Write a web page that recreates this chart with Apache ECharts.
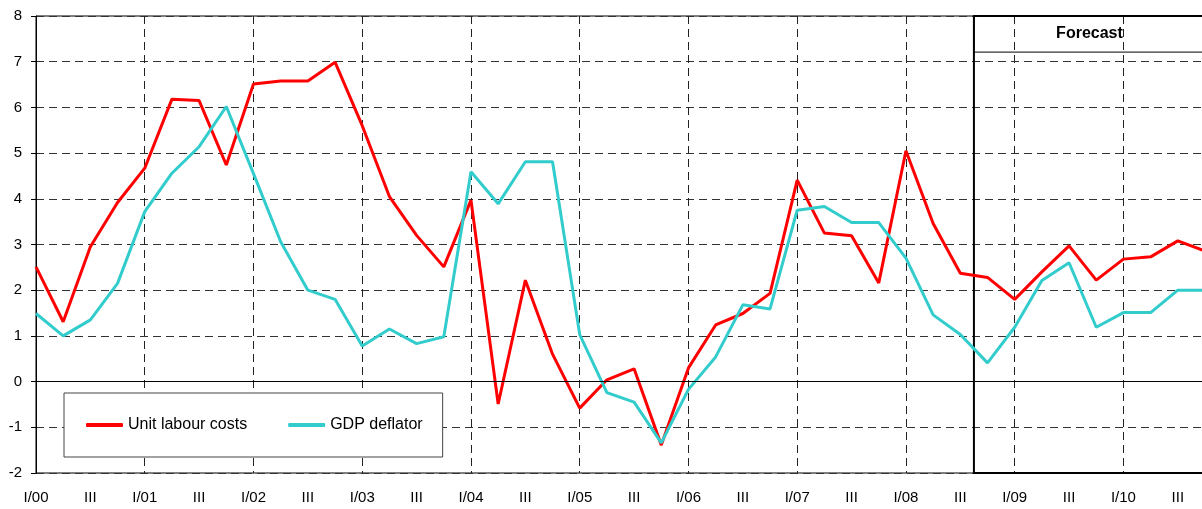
<!DOCTYPE html>
<html>
<head>
<meta charset="utf-8">
<script src="https://cdn.jsdelivr.net/npm/echarts@6/dist/echarts.min.js"></script>
<style>
  html, body { margin: 0; padding: 0; background: #fff; }
  #chart { width: 1202px; height: 509px; }
</style>
</head>
<body>
<div id="chart"></div>
<script>
// quarters I/00 .. IV/10
const quarters = [
  'I/00', 'II', 'III', 'IV', 'I/01', 'II', 'III', 'IV', 'I/02', 'II', 'III', 'IV',
  'I/03', 'II', 'III', 'IV', 'I/04', 'II', 'III', 'IV', 'I/05', 'II', 'III', 'IV',
  'I/06', 'II', 'III', 'IV', 'I/07', 'II', 'III', 'IV', 'I/08', 'II', 'III', 'IV',
  'I/09', 'II', 'III', 'IV', 'I/10', 'II', 'III', 'IV'
]
const unitLabourCosts = [
  2.51, 1.31, 2.95, 3.92, 4.67, 6.18, 6.15, 4.74, 6.51, 6.58, 6.58, 6.99,
  5.6, 4.05, 3.2, 2.51, 3.97, -0.49, 2.22, 0.6, -0.58, 0.04, 0.28, -1.39,
  0.3, 1.24, 1.49, 1.93, 4.41, 3.25, 3.19, 2.16, 5.05, 3.46, 2.37, 2.28,
  1.8, 2.4, 2.97, 2.22, 2.68, 2.73, 3.08, 2.86
]
const gdpDeflator = [
  1.49, 1.0, 1.35, 2.15, 3.72, 4.56, 5.14, 6.02, 4.55, 3.06, 2.0, 1.8,
  0.78, 1.15, 0.83, 0.98, 4.59, 3.89, 4.81, 4.81, 1.03, -0.24, -0.45, -1.34,
  -0.17, 0.54, 1.68, 1.59, 3.75, 3.83, 3.48, 3.48, 2.7, 1.46, 1.03, 0.41,
  1.19, 2.21, 2.6, 1.19, 1.51, 1.51, 2.0, 2.0
]
const yTicks = { min: -2, max: 8, interval: 1 }

// forecast box: starts between III/08 and IV/08
const forecastStart = 34.5
const forecastEnd = quarters.length - 1
const forecastHeaderBottom = 7.21

const font = 'Liberation Sans, Arial, sans-serif'
const myChart = echarts.init(document.getElementById('chart'))

myChart.setOption({
  animation: false,
  textStyle: { fontFamily: font },
  grid: {
    left: 36, width: 1169, top: 16, bottom: 36,
    outerBoundsMode: 'none',
    show: true, borderColor: '#000', borderWidth: 1, backgroundColor: '#fff'
  },
  legend: {
    data: ['Unit labour costs', 'GDP deflator'],
    left: 64, top: 393,
    padding: [24, 20, 24, 22],
    itemGap: 41,
    itemWidth: 37,
    itemHeight: 4,
    icon: 'roundRect',
    borderColor: '#444',
    borderWidth: 1,
    backgroundColor: '#fff',
    textStyle: { fontSize: 16, color: '#000', fontFamily: font }
  },
  xAxis: [
    {
      type: 'category',
      data: quarters,
      boundaryGap: false,
      axisLine: { lineStyle: { color: '#000', width: 1 } },
      axisTick: { show: false },
      axisLabel: { interval: 1, fontSize: 15, color: '#000', margin: 17, fontFamily: font },
      splitLine: {
        show: true,
        interval: 3,
        lineStyle: { color: '#222', type: [8, 5], width: 1 }
      }
    },
    { type: 'value', min: 0, max: forecastEnd, show: false }
  ],
  yAxis: {
    type: 'value',
    min: yTicks.min, max: yTicks.max, interval: yTicks.interval,
    axisLine: { show: true, lineStyle: { color: '#000', width: 1 } },
    axisTick: { show: true, length: 5, lineStyle: { color: '#000' } },
    axisLabel: { fontSize: 15, color: '#000', margin: 14, fontFamily: font },
    splitLine: { lineStyle: { color: '#333', type: [8, 5], width: 1 } }
  },
  series: [
    {
      name: 'forecast',
      type: 'line',
      xAxisIndex: 1,
      data: [],
      silent: true,
      z: 1,
      markLine: {
        silent: true,
        symbol: 'none',
        label: { show: false },
        lineStyle: { color: '#000', type: 'solid', width: 1 },
        data: [{ yAxis: 0 }]
      },
      markArea: {
        silent: true,
        data: [
          [
            { coord: [forecastStart, yTicks.min], itemStyle: { color: 'rgba(0,0,0,0)', borderColor: '#000', borderWidth: 2 } },
            { coord: [forecastEnd, yTicks.max] }
          ],
          [
            {
              coord: [forecastStart, forecastHeaderBottom],
              itemStyle: { color: 'rgba(0,0,0,0)', borderColor: '#000', borderWidth: 1 },
              label: {
                show: true, position: 'inside', formatter: 'Forecast',
                fontWeight: 'bold', fontSize: 16, color: '#000', fontFamily: font
              }
            },
            { coord: [forecastEnd, yTicks.max] }
          ]
        ]
      }
    },
    {
      name: 'Unit labour costs',
      type: 'line',
      data: unitLabourCosts,
      showSymbol: false,
      lineStyle: { color: '#ff0000', width: 3 },
      itemStyle: { color: '#ff0000' }
    },
    {
      name: 'GDP deflator',
      type: 'line',
      data: gdpDeflator,
      showSymbol: false,
      lineStyle: { color: '#33cccc', width: 3 },
      itemStyle: { color: '#33cccc' }
    }
  ]
})
</script>
</body>
</html>
